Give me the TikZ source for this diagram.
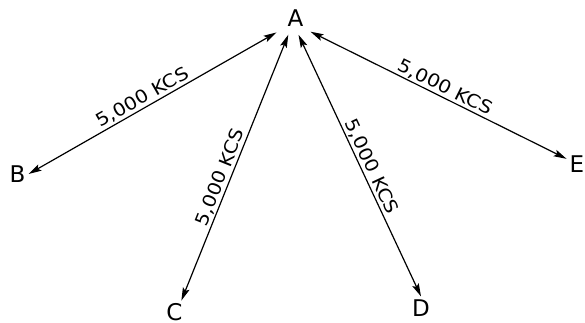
\documentclass[tikz,border=0pt]{standalone}
\usepackage{fontspec}
\setmainfont{DejaVu Sans}
\newfontfamily\lettering[FakeStretch=1.12]{DejaVu Sans}
\usetikzlibrary{arrows.meta}
\begin{document}
\begin{tikzpicture}[x=1pt, y=-1pt, every node/.style={inner sep=3pt,
		font=\fontsize{23}{23}\selectfont}, >={Stealth[length=13pt,width=7pt,inset=2.5pt]},
		link/.style={<->, line width=1.2pt},
		rate/.style={sloped, above, pos=#1, inner sep=1.5pt, font=\lettering\fontsize{18}{18}\selectfont} ]
	\useasboundingbox (0,0) rectangle (585,323);
	\node (A) at (295.5,18.5) {A};
	\node (B) at (17.5,174) {B};
	\node (C) at (174.5,312.5) {C};
	\node (D) at (421,308) {D};
	\node (E) at (577,164) {E};
	\coordinate (hub) at (293,23);
	\draw[link, shorten <=19pt] (hub) -- node[rate=.55] {5,000 KCS} (B.east);
	\draw[link, shorten <=12.6pt] (hub) -- node[rate=.57] {5,000 KCS} (C.60);
	\draw[link, shorten <=13pt] (hub) -- node[rate=.54] {5,000 KCS} (D.north);
	\draw[link, shorten <=19.6pt] (hub) -- node[rate=.54] {5,000 KCS} (E);
\end{tikzpicture}
\end{document}
